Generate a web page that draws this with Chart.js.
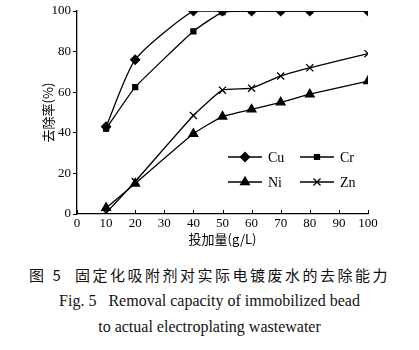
<!DOCTYPE html>
<html>
<head>
<meta charset="utf-8">
<script src="https://cdn.jsdelivr.net/npm/chart.js@4/dist/chart.umd.min.js"></script>
<style>
  body { margin: 0; background: #fff; width: 419px; height: 350px; overflow: hidden; }
  #wrap { position: absolute; left: 0; top: 0; width: 419px; height: 250px; }
  .cap { position: absolute; left: 0; width: 419px; text-align: center; color: #111;
         font-family: "Liberation Serif", "Noto Sans CJK SC", serif; }
</style>
</head>
<body>
<div id="wrap"><canvas id="myChart"></canvas></div>
<div class="cap" style="top:264px;font-size:15px;letter-spacing:2.5px;font-family:'Noto Sans CJK SC','Liberation Serif',serif;">图 5&nbsp;&nbsp;固定化吸附剂对实际电镀废水的去除能力</div>
<div class="cap" style="top:292px;font-size:16px;">Fig. 5&nbsp;&nbsp;&nbsp;Removal capacity of immobilized bead</div>
<div class="cap" style="top:318px;font-size:16px;">to actual electroplating wastewater</div>
<script>
var doses = [10, 20, 40, 50, 60, 70, 80, 100];
var cuValues = [43, 76, 100, 100, 100, 100, 100, 100];
var crValues = [42, 62.5, 90, 99.5, 100, 100, 100, 100];
var niValues = [3, 15, 39.5, 48, 51.5, 55, 59, 65.5];
var znValues = [0.5, 16, 48.5, 61, 62, 68, 72, 79];
var seriesNames = ['Cu', 'Cr', 'Ni', 'Zn'];
var xTicks = [0, 10, 20, 30, 40, 50, 60, 70, 80, 90, 100];
var yTicks = [0, 20, 40, 60, 80, 100];

function toPoints(vals) {
    return doses.map(function (d, i) { return { x: d, y: vals[i] }; });
}

var font = { family: '"Liberation Serif", serif', size: 13 };

// legend drawn inside plot, 2 x 2
var inLegend = {
    id: 'inLegend',
    afterDraw: function (chart) {
        var ctx = chart.ctx;
        var spots = [[228, 157], [300, 157], [228, 182], [300, 182]];
        chart.data.datasets.forEach(function (ds, i) {
            var x = spots[i][0], y = spots[i][1];
            ctx.save();
            ctx.strokeStyle = '#000';
            ctx.lineWidth = 1.3;
            ctx.beginPath();
            ctx.moveTo(x, y);
            ctx.lineTo(x + 34, y);
            ctx.stroke();
            ctx.fillStyle = '#000';
            Chart.helpers.drawPoint(ctx, {
                pointStyle: ds.pointStyle, radius: ds.pointRadius, borderWidth: 1.3
            }, x + 17, y);
            ctx.font = '14px "Liberation Serif", serif';
            ctx.textBaseline = 'middle';
            ctx.fillText(ds.label, x + 40, y + 1);
            ctx.restore();
        });
    }
};

// short ticks pointing up from the x axis
var xInTicks = {
    id: 'xInTicks',
    afterDraw: function (chart) {
        var ctx = chart.ctx, sx = chart.scales.x, b = chart.chartArea.bottom;
        ctx.save();
        ctx.strokeStyle = '#000';
        ctx.lineWidth = 1;
        xTicks.forEach(function (t) {
            var px = Math.round(sx.getPixelForValue(t)) + 0.5;
            ctx.beginPath();
            ctx.moveTo(px, b);
            ctx.lineTo(px, b - 4);
            ctx.stroke();
        });
        ctx.restore();
    }
};

function mk(label, vals, style, r, tension) {
    return {
        label: label,
        data: toPoints(vals),
        showLine: true,
        borderColor: '#000',
        backgroundColor: '#000',
        borderWidth: 1.3,
        pointStyle: style,
        pointRadius: r,
        pointBorderWidth: 1.3,
        tension: tension
    };
}

new Chart('myChart', {
    type: 'scatter',
    data: {
        datasets: [
            mk(seriesNames[0], cuValues, 'rectRot', 4.5, 0.2),
            mk(seriesNames[1], crValues, 'rect', 3.5, 0.12),
            mk(seriesNames[2], niValues, 'triangle', 5, 0.15),
            mk(seriesNames[3], znValues, 'crossRot', 5, 0.15)
        ]
    },
    options: {
        responsive: true,
        maintainAspectRatio: false,
        animation: false,
        layout: { padding: { left: 0, right: 51, top: 11, bottom: 0 } },
        plugins: { legend: { display: false }, tooltip: { enabled: false } },
        scales: {
            x: {
                type: 'linear',
                min: 0, max: 100,
                afterBuildTicks: function (s) { s.ticks = xTicks.map(function (v) { return { value: v }; }); },
                afterFit: function (s) { s.height = 36; },
                border: { color: '#000', width: 1.3 },
                grid: { display: true, drawOnChartArea: false, drawTicks: false },
                ticks: { color: '#000', font: font, padding: 2, maxRotation: 0 },
                title: { display: true, text: '投加量(g/L)', color: '#000',
                         font: { family: '"Noto Sans CJK SC", serif', size: 13 }, padding: { top: 0, bottom: 3 } }
            },
            y: {
                min: 0, max: 100,
                afterBuildTicks: function (s) { s.ticks = yTicks.map(function (v) { return { value: v }; }); },
                afterFit: function (s) { s.width = 77; },
                border: { color: '#000', width: 1.3 },
                grid: { drawOnChartArea: false, color: '#000', tickLength: 4 },
                ticks: { color: '#000', font: font, padding: 2 },
                title: { display: true, text: '去除率(%)', color: '#000',
                         font: { family: '"Noto Sans CJK SC", serif', size: 13 }, padding: { top: 40, bottom: 0 } }
            }
        }
    },
    plugins: [inLegend, xInTicks]
});
</script>
</body>
</html>
